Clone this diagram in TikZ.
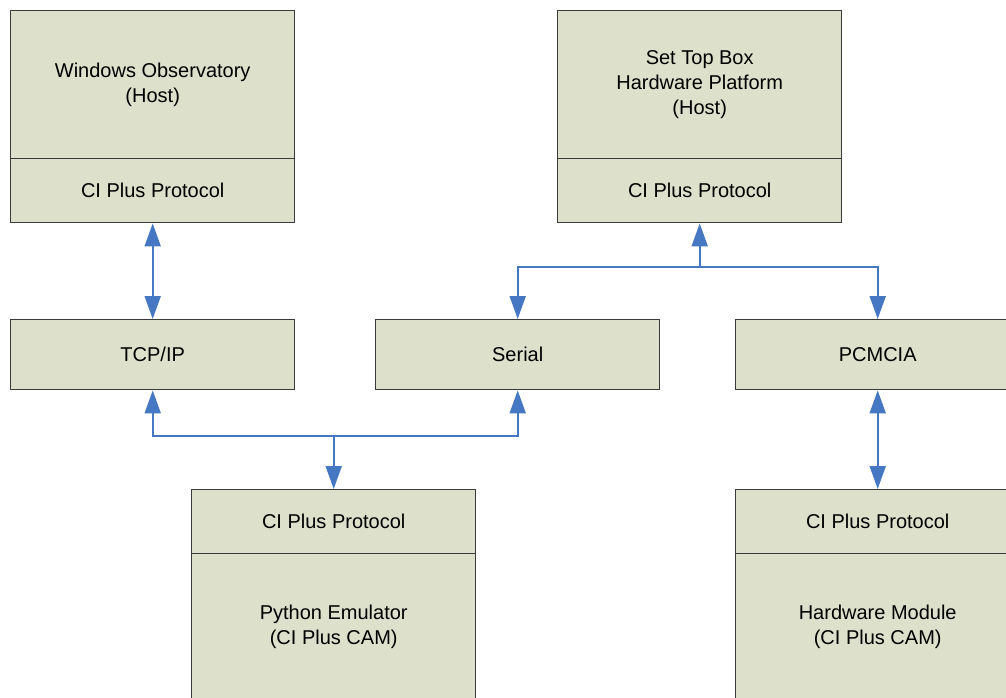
\documentclass[tikz,border=0pt]{standalone}
\usepackage{fontspec}
\setmainfont{Liberation Sans}
\usetikzlibrary{arrows.meta}
\definecolor{boxfill}{HTML}{DDE0CB}
\definecolor{boxline}{HTML}{3A3A3A}
\definecolor{arrblue}{HTML}{4677C3}
\tikzset{
  blk/.style={draw=boxline, fill=boxfill, line width=1.4pt, rectangle, inner sep=0pt,
    minimum width=284pt, anchor=north west, align=center,
    font=\fontsize{20}{25}\selectfont},
  arr/.style={draw=arrblue, line width=2pt,
    arrows={-Triangle[length=23pt,width=16pt]}},
  darr/.style={draw=arrblue, line width=2pt,
    arrows={Triangle[length=23pt,width=16pt]-Triangle[length=23pt,width=16pt]}}
}
\begin{document}
\begin{tikzpicture}[x=1pt,y=-1pt]
\useasboundingbox (0,0) rectangle (1006,698);
\clip (0,0) rectangle (1006,698);
% Windows Observatory
\node[blk, minimum height=148pt] (wo1) at (10,10) {Windows Observatory\\(Host)};
\node[blk, minimum height=64pt] (wo2) at (10,158) {CI Plus Protocol};
% Set Top Box
\node[blk, minimum height=148pt] (stb1) at (557,10) {Set Top Box\\Hardware Platform\\(Host)};
\node[blk, minimum height=64pt] (stb2) at (557,158) {CI Plus Protocol};
% middle row
\node[blk, minimum height=70pt] (tcp) at (10,319) {TCP/IP};
\node[blk, minimum height=70pt] (serial) at (375,319) {Serial};
\node[blk, minimum height=70pt] (pcmcia) at (735,319) {PCMCIA};
% bottom row
\node[blk, minimum height=64pt] (py1) at (191,489) {CI Plus Protocol};
\node[blk, minimum height=147pt] (py2) at (191,553) {Python Emulator\\(CI Plus CAM)};
\node[blk, minimum height=64pt] (hw1) at (735,489) {CI Plus Protocol};
\node[blk, minimum height=147pt] (hw2) at (735,553) {Hardware Module\\(CI Plus CAM)};
% connectors
\coordinate (j1) at (stb2.south |- 0,267);
\coordinate (j2) at (py1.north |- 0,436);
\draw[darr] (wo2.south) -- (tcp.north);
\draw[arr] (j1) -- (stb2.south);
\draw[arr] (j1) -| (serial.north);
\draw[arr] (j1) -| (pcmcia.north);
\draw[arr] (j2) -| (tcp.south);
\draw[arr] (j2) -| (serial.south);
\draw[arr] (j2) -- (py1.north);
\draw[darr] (pcmcia.south) -- (hw1.north);
\end{tikzpicture}
\end{document}
